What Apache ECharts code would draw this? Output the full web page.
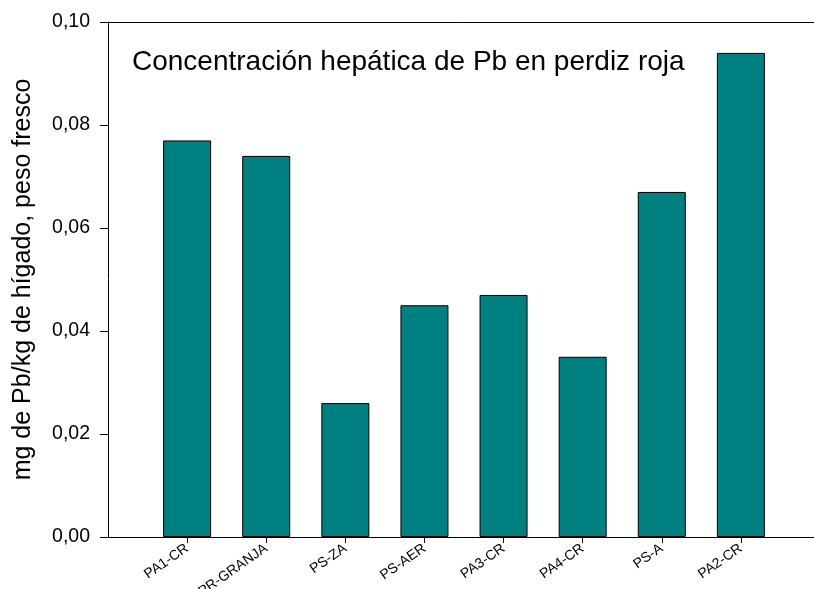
<!DOCTYPE html>
<html>
<head>
<meta charset="utf-8">
<script src="https://cdn.jsdelivr.net/npm/echarts@6/dist/echarts.min.js"></script>
<style>
  html, body { margin: 0; padding: 0; background: #fff; }
  #chart { width: 814px; height: 589px; }
</style>
</head>
<body>
<div id="chart"></div>
<script>
const categories = ['PA1-CR', 'PR-GRANJA', 'PS-ZA', 'PS-AER', 'PA3-CR', 'PA4-CR', 'PS-A', 'PA2-CR']
const values = [0.077, 0.074, 0.026, 0.045, 0.047, 0.035, 0.067, 0.094]
const yTicks = [0, 0.02, 0.04, 0.06, 0.08, 0.10]

// one empty slot on each side so the first bar sits a full step from the y axis
const axisData = ['', ...categories, '']
const seriesData = ['-', ...values, '-']

const chart = echarts.init(document.getElementById('chart'))
const font = 'Liberation Sans, Arial, sans-serif'

chart.setOption({
  animation: false,
  title: {
    text: 'Concentración hepática de Pb en perdiz roja',
    left: 127,
    top: 43,
    textStyle: { fontFamily: font, fontSize: 28, fontWeight: 'normal', color: '#000' }
  },
  grid: {
    left: 108,
    width: 712,
    top: 22,
    bottom: 52,
    containLabel: false,
    outerBoundsMode: 'none'
  },
  xAxis: [{
    type: 'category',
    boundaryGap: false,
    data: axisData,
    axisLine: { lineStyle: { color: '#000', width: 1 } },
    axisTick: {
      length: 6,
      lineStyle: { color: '#000' },
      interval: (i, v) => v !== ''
    },
    axisLabel: {
      interval: (i, v) => v !== '',
      rotate: 35,
      margin: 10,
      fontFamily: font,
      fontSize: 14,
      color: '#000'
    },
    splitLine: { show: false }
  }, {
    // top frame line only
    type: 'category',
    position: 'top',
    boundaryGap: false,
    data: axisData,
    axisLine: { lineStyle: { color: '#000', width: 1 } },
    axisTick: { show: false },
    axisLabel: { show: false }
  }],
  yAxis: {
    type: 'value',
    min: 0,
    max: 0.1,
    interval: 0.02,
    name: 'mg de Pb/kg de hígado, peso fresco',
    nameLocation: 'middle',
    nameGap: 72,
    nameTextStyle: { fontFamily: font, fontSize: 25, color: '#000' },
    axisLine: { show: true, lineStyle: { color: '#000', width: 1 } },
    axisTick: { show: true, length: 8, lineStyle: { color: '#000' } },
    axisLabel: {
      margin: 18,
      fontFamily: font,
      fontSize: 19.5,
      color: '#000',
      formatter: v => v.toFixed(2).replace('.', ',')
    },
    splitLine: { show: false }
  },
  series: [{
    type: 'bar',
    data: seriesData,
    barWidth: 48,
    itemStyle: { color: '#008080', borderColor: '#000', borderWidth: 1 }
  }]
})
</script>
</body>
</html>
